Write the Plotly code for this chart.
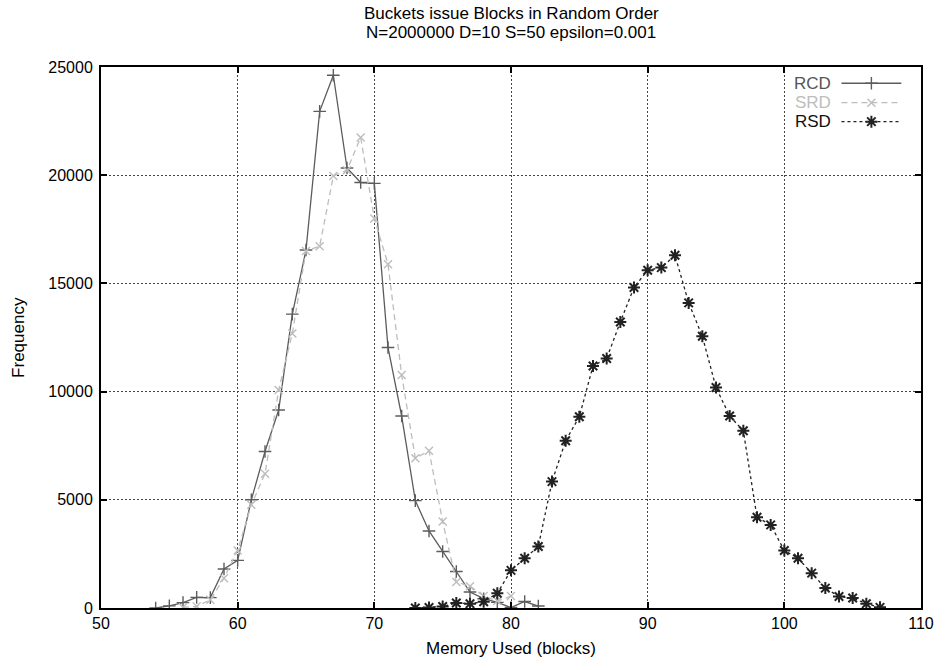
import plotly.graph_objects as go

# Memory usage histograms (frequency per number of blocks used)
rcd_blocks = list(range(54, 83))
rcd_freq = [0, 100, 250, 490, 480, 1800, 2200, 5000, 7230, 9150,
            13580, 16540, 22950, 24620, 20330, 19660, 19620, 12040, 8870, 4960,
            3560, 2610, 1690, 740, 430, 260, 20, 300, 90]

srd_blocks = list(range(56, 81))
srd_freq = [30, 75, 380, 1380, 2660, 4770, 6200, 10070, 12690, 16500,
            16720, 19960, 20230, 21740, 18000, 15890, 10770, 6920, 7270, 4000,
            1200, 1010, 560, 320, 550]

rsd_blocks = list(range(73, 108))
rsd_freq = [0, 25, 70, 230, 200, 290, 680, 1740, 2300, 2840,
            5840, 7730, 8840, 11180, 11530, 13220, 14810, 15610, 15730, 16300,
            14100, 12560, 10190, 8870, 8190, 4190, 3840, 2660, 2300, 1610,
            920, 530, 460, 200, 30]

series_names = ["RCD", "SRD", "RSD"]
x_ticks = [50, 60, 70, 80, 90, 100, 110]
y_ticks = [0, 5000, 10000, 15000, 20000, 25000]

title_lines = ["Buckets issue Blocks in Random Order", "N=2000000 D=10 S=50 epsilon=0.001"]
x_label = "Memory Used (blocks)"
y_label = "Frequency"

FONT = "Liberation Sans, Arial, sans-serif"
TXT = 17
styles = {
    "RCD": dict(color="#5c5c5c", dash="solid", symbol="cross-thin-open", size=9, lw=1.4, text="#555555"),
    "SRD": dict(color="#bdbdbd", dash="6px,4px", symbol="x-thin-open", size=8, lw=1.4, text="#bdbdbd"),
    "RSD": dict(color="#222222", dash="3px,3px", symbol="asterisk-open", size=10, lw=2, text="#111111"),
}
data = {"RCD": (rcd_blocks, rcd_freq), "SRD": (srd_blocks, srd_freq), "RSD": (rsd_blocks, rsd_freq)}

fig = go.Figure()
for name in series_names:
    xs, ys = data[name]
    st = styles[name]
    fig.add_trace(go.Scatter(
        x=xs, y=ys, mode="lines+markers", name=name, showlegend=False,
        line=dict(color=st["color"], width=1.3, dash=st["dash"]),
        marker=dict(symbol=st["symbol"], size=st["size"],
                    line=dict(color=st["color"], width=st["lw"]), color=st["color"]),
    ))

# Key drawn in the upper-right corner: label on the left, line sample on the right
key_rows = [0.970, 0.934, 0.899]
for name, ky in zip(series_names, key_rows):
    st = styles[name]
    fig.add_trace(go.Scatter(
        x=[0.903, 0.976], y=[ky, ky], xaxis="x2", yaxis="y2", mode="lines",
        showlegend=False, hoverinfo="skip",
        line=dict(color=st["color"], width=1.3, dash=st["dash"]),
    ))
    fig.add_trace(go.Scatter(
        x=[0.9395], y=[ky], xaxis="x2", yaxis="y2", mode="markers",
        showlegend=False, hoverinfo="skip",
        marker=dict(symbol=st["symbol"], size=st["size"],
                    line=dict(color=st["color"], width=st["lw"]), color=st["color"]),
    ))
    fig.add_annotation(
        x=0.893, y=ky, xref="x2", yref="y2", text=name, showarrow=False,
        xanchor="right", yanchor="middle",
        font=dict(family=FONT, size=TXT, color=st["text"]),
    )

# Two-line title centred over the plot area
for line, py in zip(title_lines, [13, 32]):
    fig.add_annotation(
        x=0.5, xref="paper", y=(608.3 - py) / 541.5, yref="paper", text=line,
        showarrow=False, xanchor="center", yanchor="middle",
        font=dict(family=FONT, size=TXT, color="black"),
    )

# Axis titles
fig.add_annotation(
    x=0.5, xref="paper", y=(608.3 - 649) / 541.5, yref="paper", text=x_label,
    showarrow=False, xanchor="center", yanchor="middle",
    font=dict(family=FONT, size=TXT, color="black"),
)
fig.add_annotation(
    x=(18 - 101) / 824, xref="paper", y=0.5, yref="paper", text=y_label,
    showarrow=False, xanchor="center", yanchor="middle", textangle=-90,
    font=dict(family=FONT, size=TXT, color="black"),
)

axis_common = dict(
    showline=True, linecolor="black", linewidth=2, mirror="ticks",
    ticks="inside", ticklen=6, tickwidth=1.5, tickcolor="black",
    showgrid=True, gridcolor="#444444", gridwidth=1, griddash="2px,2px",
    zeroline=False, tickfont=dict(family=FONT, size=16, color="black"),
)

fig.update_layout(
    width=946, height=670,
    margin=dict(l=101, r=21, t=67, b=62),
    paper_bgcolor="white", plot_bgcolor="white",
    xaxis=dict(range=[50, 110], tickvals=x_ticks, ticktext=[str(v) for v in x_ticks],
               **axis_common),
    yaxis=dict(range=[0, 25000], tickvals=y_ticks, ticktext=[str(v) for v in y_ticks],
               ticklabelstandoff=3, **axis_common),
    xaxis2=dict(overlaying="x", range=[0, 1], visible=False, fixedrange=True),
    yaxis2=dict(overlaying="y", range=[0, 1], visible=False, fixedrange=True),
    showlegend=False,
)

fig.write_html("out.html")
